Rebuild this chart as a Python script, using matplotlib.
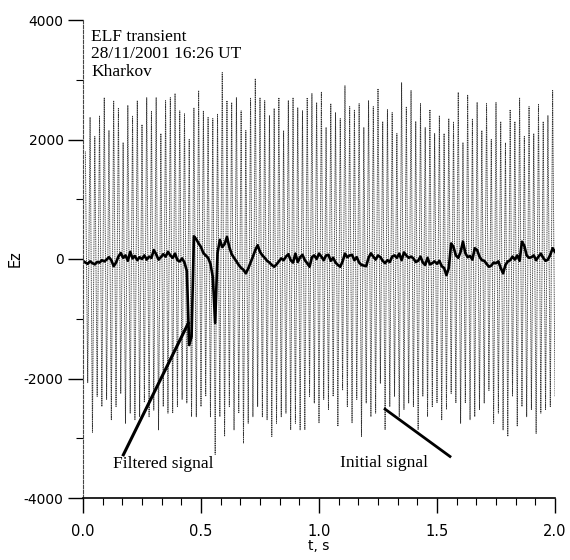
import numpy as np
import matplotlib
matplotlib.use('Agg')
import matplotlib.pyplot as plt
from matplotlib.ticker import MultipleLocator

plt.rcParams['axes.unicode_minus'] = False

# Initial signal: peak and trough of each ~50 Hz cycle
peaks = [1800, 2370, 2050, 2400, 2700, 2150, 2650, 2530, 1950, 2570,
         2400, 2650, 2250, 2700, 2480, 2700, 2100, 2650, 2700, 2770,
         2480, 2430, 2000, 2530, 2820, 2480, 2370, 2350, 2430, 3120,
         2650, 2620, 2700, 2480, 2150, 2700, 3020, 2700, 2650, 2400,
         2520, 2700, 2150, 2650, 2700, 2530, 2480, 2700, 2770, 2620,
         2790, 2200, 2600, 2450, 2350, 2900, 2550, 2500, 2600, 2200,
         2650, 2550, 2850, 2300, 2500, 2450, 2100, 2950, 2550, 2820,
         2300, 2600, 2200, 2500, 2100, 2400, 2100, 2350, 2300, 2790,
         1950, 2740, 2350, 2620, 2150, 2600, 2000, 2620, 2300, 1940,
         2500, 2300, 2700, 2050, 2550, 2100, 2600, 2300, 2400, 2820]
troughs = [-2070, -2900, -2300, -2470, -2350, -2690, -2470, -2250, -2750, -2580,
           -2690, -2640, -2400, -2640, -2530, -2860, -2470, -2580, -2580, -2470,
           -2350, -2410, -2640, -2640, -2470, -2300, -2640, -3270, -2640, -2970,
           -2470, -2860, -2580, -3080, -2750, -2640, -2470, -2640, -2690, -2970,
           -2750, -2640, -2580, -2860, -2750, -2860, -2860, -2300, -2410, -2740,
           -2350, -2520, -2300, -2800, -2200, -2470, -2740, -2350, -2970, -2410,
           -2640, -2580, -2080, -2860, -2470, -2300, -2640, -2520, -2410, -2470,
           -2860, -2300, -2640, -2470, -2410, -2690, -2520, -2250, -2410, -2750,
           -2410, -2690, -2640, -2520, -2410, -2200, -2750, -2580, -2860, -2970,
           -2300, -2800, -2470, -2640, -2520, -2920, -2580, -2520, -2470, -2300]

# Filtered signal, one value every 0.01 s from 0.00 to 2.00 s
filtered = [-30, -60, -80, -40, -70, -90, -50, -60, -20, -40,
            -10, 30, -20, -120, -60, 40, 100, 20, 60, -30,
            120, 10, 50, -20, 30, 0, 60, -10, 40, 20,
            150, 80, -10, 30, 80, 40, 120, 60, 20, 90,
            -20, -40, 10, -60, -200, -1440, -1300, 380, 330, 260,
            200, 100, 60, 20, -80, -300, -1070, 100, 320, 200,
            250, 370, 200, 80, 20, -40, -100, -150, -180, -240,
            -160, -60, 40, 150, 230, 120, 60, 20, -30, -60,
            -100, -130, -90, -40, 10, -20, 40, 80, -20, -60,
            90, -50, 30, 70, -20, -70, -130, 30, 60, 0,
            90, 40, -20, 60, 70, -30, 20, -60, -100, -130,
            -40, 90, 30, 60, 70, -20, 30, -60, -100, -110,
            -120, 20, 95, 40, -10, 60, 30, -30, -70, -20,
            -50, 40, 60, 20, 90, -20, 110, 60, 20, 40,
            10, -50, -30, 40, -60, -100, 20, -90, -70, -40,
            -80, -30, -120, -150, -270, -150, 260, 200, 60, 20,
            120, 290, 100, 30, 50, -10, 180, 150, 40, -20,
            -30, -80, -130, -110, -60, -70, -40, -150, -240, -100,
            -40, -20, 40, -10, 60, -30, 290, 220, 60, 20,
            30, 60, -20, 40, 90, 20, -30, -10, 70, 180,
            120]

x_ticks = [0.0, 0.5, 1.0, 1.5, 2.0]
y_ticks = [-4000, -2000, 0, 2000, 4000]

# half-period sample times (100 Hz) and filtered sample times (100 Hz)
n = len(peaks)
t_init = np.arange(2 * n) * 0.01 + 0.01
v_init = np.column_stack([peaks, troughs]).ravel()
t_filt = np.arange(len(filtered)) * 0.01

fig = plt.figure(figsize=(5.7, 5.6), dpi=100)
ax = fig.add_axes([83 / 570, 1 - 498 / 560, 472 / 570, 478 / 560])

ax.plot(t_init, v_init, color='#333333', lw=0.65, ls=(0, (1.2, 0.8)))
ax.plot(t_filt, filtered, color='black', lw=1.9)

# annotation leaders
ax.plot([0.171, 0.446], [-3277, -1075], color='black', lw=2.2)
ax.plot([1.280, 1.555], [-2513, -3305], color='black', lw=2.0)
ax.text(0.127, -3494, 'Filtered signal', family='Liberation Serif', fontsize=12.5)
ax.text(1.089, -3478, 'Initial signal', family='Liberation Serif', fontsize=12.5)

ax.text(0.034, 3850, 'ELF transient\n28/11/2001 16:26 UT\nKharkov',
        family='Liberation Serif', fontsize=12.5, va='top', linespacing=1.12)

ax.set_xlim(0, 2.0)
ax.set_ylim(-4000, 4000)
ax.set_xticks(x_ticks)
ax.set_yticks(y_ticks)
ax.xaxis.set_minor_locator(MultipleLocator(0.5 / 6))
ax.yaxis.set_minor_locator(MultipleLocator(1000))
ax.tick_params(axis='x', which='major', direction='out', length=11, width=1, pad=8, labelsize=10.5)
ax.tick_params(axis='x', which='minor', direction='out', length=5, width=0.8)
ax.tick_params(axis='y', which='major', direction='out', length=11, width=1, pad=3, labelsize=10)
ax.tick_params(axis='y', which='minor', direction='out', length=5, width=0.8)

ax.spines['top'].set_visible(False)
ax.spines['right'].set_visible(False)
ax.spines['left'].set_linestyle((0, (3, 1.5)))
ax.spines['left'].set_color('#444444')
ax.spines['bottom'].set_linewidth(1.2)

ax.set_xlabel('t, s', fontsize=10, va='center')
ax.xaxis.set_label_coords(0.5, -0.1)
ax.set_ylabel('Ez', fontsize=10.5)
ax.yaxis.set_label_coords(-0.128, 0.5)

fig.savefig('out.png', dpi=100)
